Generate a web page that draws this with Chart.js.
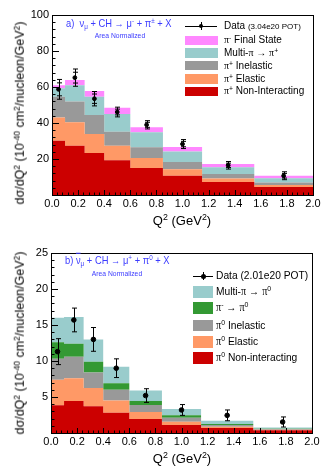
<!DOCTYPE html>
<html>
<head>
<meta charset="utf-8">
<script src="https://cdn.jsdelivr.net/npm/chart.js@4.4.0/dist/chart.umd.min.js"></script>
<style>
  body { margin: 0; background: #fff; font-family: "Liberation Sans", Arial, sans-serif; }
  .panel { position: relative; width: 327px; height: 236px; overflow: hidden; }
  .panel canvas { position: absolute; left: 0; top: 0; }
  .t { position: absolute; white-space: nowrap; color: #000; line-height: 1; }
  .c { transform: translate(-50%, -50%); }
  .l { transform: translateY(-50%); }
  .ln { transform: translateY(-50%) scaleX(0.89); transform-origin: left center; }
  .cn { transform: translate(-50%, -50%) scaleX(0.9); }
  .ytitle { font-size: 12.5px; transform: translate(-50%, -50%) rotate(-90deg); }
  .xtitle { font-size: 13px; }
  sup { font-size: 0.68em; vertical-align: 0.5em; line-height: 0; }
  sub { font-size: 0.68em; vertical-align: -0.25em; line-height: 0; }
  .blue { color: #3b3bff; }
  .pi { font-family: "Liberation Serif", serif; }
  .sw { position: absolute; }
  .dl { position: absolute; height: 1px; background: #000; }
  .dv { position: absolute; width: 1px; background: #000; }
  .dot { position: absolute; border-radius: 50%; background: #000; }
</style>
</head>
<body>

<div class="panel" id="pa">
  <canvas id="chartA" width="327" height="236"></canvas>
  <div class="t ytitle" style="left:20px; top:113px;">dσ/dQ<sup>2</sup> (10<sup>-40</sup> cm<sup>2</sup>/nucleon/GeV<sup>2</sup>)</div>
  <div class="t xtitle c" style="left:182px; top:220px;">Q<sup>2</sup> (GeV<sup>2</sup>)</div>
  <div class="t blue ln" style="left:66px; top:23px; font-size:10.5px;">a)&nbsp; ν<sub>μ</sub> + CH → μ<sup>-</sup> + π<sup>±</sup> + X</div>
  <div class="t blue cn" style="left:120px; top:36px; font-size:7.5px;">Area Normalized</div>

  <div class="dl" style="left:185px; width:32px; top:26px;"></div>
  <div class="dv" style="left:201px; top:22px; height:8px;"></div>
  <div class="dot" style="left:199px; top:24px; width:4px; height:4px;"></div>
  <div class="t l" style="left:224px; top:26px; font-size:10px;">Data <span style="font-size:8px;">(3.04e20 POT)</span></div>

  <div class="sw" style="left:185px; top:35.5px; width:33px; height:9.5px; background:#ff88ff;"></div>
  <div class="sw" style="left:185px; top:48px; width:33px; height:9.5px; background:#99cccc;"></div>
  <div class="sw" style="left:185px; top:60.5px; width:33px; height:9.5px; background:#999999;"></div>
  <div class="sw" style="left:185px; top:74px; width:33px; height:9.5px; background:#ff9966;"></div>
  <div class="sw" style="left:185px; top:86.5px; width:33px; height:9.5px; background:#cc0000;"></div>
  <div class="t l" style="left:224px; top:40px; font-size:10px;"><span class="pi">π</span><sup>-</sup> Final State</div>
  <div class="t l" style="left:224px; top:53px; font-size:10px;">Multi-<span class="pi">π</span> → <span class="pi">π</span><sup>+</sup></div>
  <div class="t l" style="left:224px; top:65.5px; font-size:10px;"><span class="pi">π</span><sup>+</sup> Inelastic</div>
  <div class="t l" style="left:224px; top:79px; font-size:10px;"><span class="pi">π</span><sup>+</sup> Elastic</div>
  <div class="t l" style="left:224px; top:91px; font-size:10px;"><span class="pi">π</span><sup>+</sup> Non-Interacting</div>
</div>

<div class="panel" id="pb">
  <canvas id="chartB" width="327" height="236"></canvas>
  <div class="t ytitle" style="left:20px; top:107px;">dσ/dQ<sup>2</sup> (10<sup>-40</sup> cm<sup>2</sup>/nucleon/GeV<sup>2</sup>)</div>
  <div class="t xtitle c" style="left:182px; top:222px;">Q<sup>2</sup> (GeV<sup>2</sup>)</div>
  <div class="t blue ln" style="left:65px; top:24px; font-size:10.5px;">b) <span style="text-decoration:overline;">ν</span><sub>μ</sub> + CH → μ<sup>+</sup> + π<sup>0</sup> + X</div>
  <div class="t blue cn" style="left:117px; top:38px; font-size:7.5px;">Area Normalized</div>

  <div class="dl" style="left:193px; width:20px; top:40px;"></div>
  <div class="dv" style="left:203px; top:36px; height:8px;"></div>
  <div class="dot" style="left:200.5px; top:38px; width:5px; height:5px;"></div>
  <div class="t ln" style="left:216px; top:40px; font-size:11.5px;">Data (2.01e20 POT)</div>

  <div class="sw" style="left:193px; top:50px; width:20px; height:11.5px; background:#99cccc;"></div>
  <div class="sw" style="left:193px; top:66.3px; width:20px; height:11.5px; background:#339933;"></div>
  <div class="sw" style="left:193px; top:83.7px; width:20px; height:11.5px; background:#999999;"></div>
  <div class="sw" style="left:193px; top:100px; width:20px; height:11.5px; background:#ff9966;"></div>
  <div class="sw" style="left:193px; top:116px; width:20px; height:11.5px; background:#cc0000;"></div>
  <div class="t ln" style="left:216px; top:56px; font-size:11.5px;">Multi-<span class="pi">π</span> → <span class="pi">π</span><sup>0</sup></div>
  <div class="t ln" style="left:216px; top:72px; font-size:11.5px;"><span class="pi">π</span><sup>-</sup> → <span class="pi">π</span><sup>0</sup></div>
  <div class="t ln" style="left:216px; top:89.5px; font-size:11.5px;"><span class="pi">π</span><sup>0</sup> Inelastic</div>
  <div class="t ln" style="left:216px; top:106px; font-size:11.5px;"><span class="pi">π</span><sup>0</sup> Elastic</div>
  <div class="t ln" style="left:216px; top:122px; font-size:11.5px;"><span class="pi">π</span><sup>0</sup> Non-interacting</div>
</div>

<script>
// Q2 binning (GeV^2)
const binEdges = [0, 0.1, 0.25, 0.4, 0.6, 0.85, 1.15, 1.55, 2.0];
const binCenters = [0.05, 0.175, 0.325, 0.5, 0.725, 1.0, 1.35, 1.775];
const xTicks = [0, 0.2, 0.4, 0.6, 0.8, 1.0, 1.2, 1.4, 1.6, 1.8, 2.0];

// panel a: nu_mu CH -> mu- pi+- X, stacked components
const aNonInteracting = [30.2, 27.4, 23.3, 19.3, 15.0, 10.7, 7.2, 4.4];
const aElastic        = [12.9, 13.0, 10.6, 8.1, 5.6, 3.6, 1.9, 1.2];
const aInelastic      = [11.5, 11.5, 10.5, 7.8, 5.9, 4.0, 2.6, 1.3];
const aMultiPi        = [4.7, 9.1, 10.2, 9.8, 8.3, 5.8, 3.7, 2.4];
const aPiMinus        = [1.7, 2.9, 3.2, 3.5, 2.8, 2.6, 1.8, 1.4];
const aData    = [58.7, 65.2, 53.5, 46.1, 39.0, 28.3, 16.5, 10.7];
const aTotErr  = [5.5, 4.8, 4.0, 2.7, 2.3, 2.5, 2.1, 2.2];
const aStatErr = [3.6, 3.0, 2.6, 1.6, 1.4, 1.5, 1.2, 1.3];
const aYTicks  = [20, 40, 60, 80, 100];

// panel b: anti-nu_mu CH -> mu+ pi0 X, stacked components
const bNonInteracting = [3.84, 4.44, 3.7, 2.8, 1.94, 1.1, 0.7, 0.37];
const bElastic        = [3.56, 3.16, 2.55, 1.7, 0.96, 0.47, 0.18, 0.09];
const bInelastic      = [2.9, 3.0, 2.15, 1.5, 1.0, 0.56, 0.22, 0.09];
const bPiMinusToPi0   = [2.3, 1.8, 1.5, 0.9, 0.54, 0.32, 0.15, 0.05];
const bMultiPi        = [3.4, 3.7, 3.1, 2.3, 1.46, 0.88, 0.45, 0.18];
const bData   = [11.3, 15.7, 13.0, 9.0, 5.2, 3.2, 2.45, 1.53];
const bTotErr = [1.8, 1.65, 1.65, 1.3, 0.95, 0.75, 0.75, 0.7];
const bYTicks = [5, 10, 15, 20, 25];

const tickFont = { family: "Liberation Sans", size: 11 };

function steps(vals) {
  const pts = vals.map((v, i) => ({ x: binEdges[i], y: v }));
  pts.push({ x: binEdges[binEdges.length - 1], y: vals[vals.length - 1] });
  return pts;
}

function histo(vals, color, first) {
  return {
    type: "line",
    data: steps(vals),
    backgroundColor: color,
    borderWidth: 0,
    pointRadius: 0,
    stepped: true,
    fill: first ? "origin" : "-1",
    stack: "mc"
  };
}

// ROOT-like frame with inward ticks
const frame = {
  id: "frame",
  afterDraw(chart, args, opts) {
    const { ctx, chartArea: a, scales: { x, y } } = chart;
    ctx.save();
    ctx.strokeStyle = "#000";
    ctx.lineWidth = 1;
    ctx.strokeRect(Math.round(a.left) + 0.5, Math.round(a.top) + 0.5, Math.round(a.right - a.left), Math.round(a.bottom - a.top));
    ctx.beginPath();
    for (let i = 0; i <= 50; i++) {
      const px = Math.round(x.getPixelForValue(i * 0.04)) + 0.5;
      const len = i % 5 === 0 ? 5 : 2.5;
      ctx.moveTo(px, a.bottom);
      ctx.lineTo(px, a.bottom - len);
    }
    const n = Math.round(opts.ymax / opts.minor);
    for (let i = 0; i <= n; i++) {
      const py = Math.round(y.getPixelForValue(i * opts.minor)) + 0.5;
      const len = i % 5 === 0 ? 7 : 3.5;
      ctx.moveTo(a.left, py);
      ctx.lineTo(a.left + len, py);
    }
    ctx.stroke();
    ctx.restore();
  }
};

const errorBars = {
  id: "errorBars",
  afterDatasetsDraw(chart, args, opts) {
    const { ctx, scales: { x, y } } = chart;
    ctx.save();
    ctx.strokeStyle = "#000";
    ctx.lineWidth = 1;
    ctx.beginPath();
    opts.values.forEach((v, i) => {
      const px = Math.round(x.getPixelForValue(opts.centers[i])) + 0.5;
      const hi = y.getPixelForValue(v + opts.tot[i]);
      const lo = y.getPixelForValue(v - opts.tot[i]);
      ctx.moveTo(px, hi);
      ctx.lineTo(px, lo);
      const caps = [hi, lo];
      if (opts.stat) {
        caps.push(y.getPixelForValue(v + opts.stat[i]), y.getPixelForValue(v - opts.stat[i]));
      }
      caps.forEach((cy) => {
        ctx.moveTo(px - opts.cap, cy);
        ctx.lineTo(px + opts.cap, cy);
      });
    });
    ctx.stroke();
    ctx.restore();
  }
};

function makeChart(id, stacks, data, tot, stat, yTicks, ymax, minor, pad, radius) {
  const datasets = stacks.map((s, i) => histo(s[0], s[1], i === 0));
  datasets.push({
    type: "scatter",
    data: data.map((v, i) => ({ x: binCenters[i], y: v })),
    backgroundColor: "#000",
    borderColor: "#000",
    pointRadius: radius,
    stack: "data",
    order: -1
  });
  return new Chart(document.getElementById(id), {
    type: "line",
    data: { datasets },
    plugins: [frame, errorBars],
    options: {
      responsive: false,
      animation: false,
      events: [],
      layout: { padding: { top: pad.top, right: pad.right, left: 0, bottom: 0 } },
      plugins: {
        legend: { display: false },
        tooltip: { enabled: false },
        frame: { ymax, minor },
        errorBars: { values: data, centers: binCenters, tot, stat, cap: 2.5 }
      },
      scales: {
        x: {
          type: "linear",
          min: 0,
          max: 2,
          afterBuildTicks: (s) => { s.ticks = xTicks.map((v) => ({ value: v })); },
          ticks: { callback: (v) => Number(v).toFixed(1), font: tickFont, color: "#000", padding: 2, maxRotation: 0, autoSkip: false },
          grid: { display: false, drawTicks: false },
          border: { display: false },
          afterFit: (s) => { s.height = 236 - pad.top - pad.plotH; }
        },
        y: {
          type: "linear",
          stacked: true,
          min: 0,
          max: ymax,
          afterBuildTicks: (s) => { s.ticks = yTicks.map((v) => ({ value: v })); },
          ticks: { font: tickFont, color: "#000", padding: 3, autoSkip: false },
          grid: { display: false, drawTicks: false },
          border: { display: false },
          afterFit: (s) => { s.width = pad.left; }
        }
      }
    }
  });
}

makeChart("chartA",
  [[aNonInteracting, "#cc0000"], [aElastic, "#ff9966"], [aInelastic, "#999999"], [aMultiPi, "#99cccc"], [aPiMinus, "#ff88ff"]],
  aData, aTotErr, aStatErr, aYTicks, 100, 4,
  { top: 15, right: 14, left: 52, plotH: 180 }, 1.9);

makeChart("chartB",
  [[bNonInteracting, "#cc0000"], [bElastic, "#ff9966"], [bInelastic, "#999999"], [bPiMinusToPi0, "#339933"], [bMultiPi, "#99cccc"]],
  bData, bTotErr, null, bYTicks, 25, 1,
  { top: 17, right: 15, left: 51, plotH: 180 }, 2.3);
</script>
</body>
</html>
